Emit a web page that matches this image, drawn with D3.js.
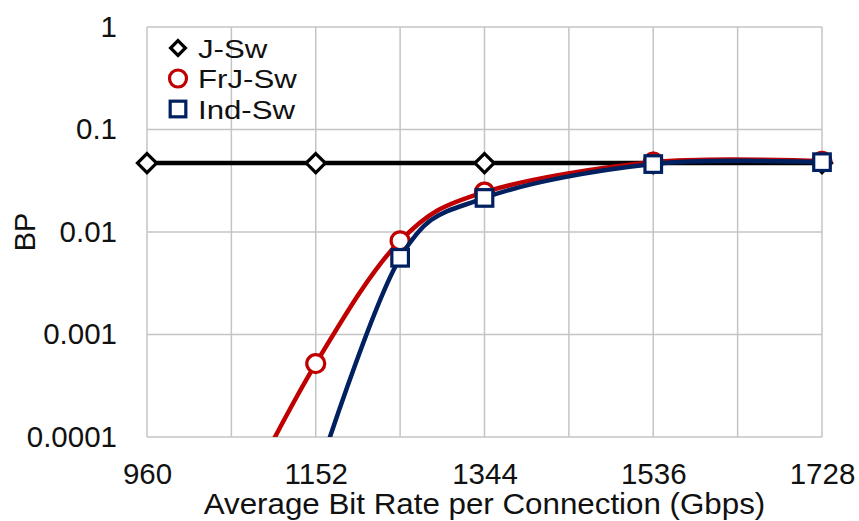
<!DOCTYPE html>
<html>
<head>
<meta charset="utf-8">
<script src="https://cdn.jsdelivr.net/npm/d3@7"></script>
<style>
  html, body { margin: 0; padding: 0; background: #fff; }
  svg { display: block; font-family: "Liberation Sans", Arial, sans-serif; }
</style>
</head>
<body>
<svg id="chart" width="859" height="521"></svg>
<script>
// Blocking probability vs. average bit rate per connection
const xTicks = [960, 1152, 1344, 1536, 1728];
const xGrid = [960, 1056, 1152, 1248, 1344, 1440, 1536, 1632, 1728];
const yTicks = [1, 0.1, 0.01, 0.001, 0.0001];
const yTickLabels = ["1", "0.1", "0.01", "0.001", "0.0001"];

const jswX = [960, 1152, 1344, 1536, 1728];
const jswY = [0.047, 0.047, 0.047, 0.047, 0.047];

const frjX = [1056, 1152, 1248, 1344, 1536, 1728];
const frjY = [0.000015, 0.00052, 0.0082, 0.0245, 0.048, 0.049];

const indX = [1152, 1248, 1344, 1536, 1728];
const indY = [0.000038, 0.0056, 0.0215, 0.046, 0.048];

const seriesNames = ["J-Sw", "FrJ-Sw", "Ind-Sw"];

const svg = d3.select("#chart");
const plotL = 147, plotR = 822, plotT = 27, plotB = 437;
const ink = "#111";

const x = d3.scaleLinear().domain([960, 1728]).range([plotL, plotR]);
const y = d3.scaleLog().domain([0.0001, 1]).range([plotB, plotT]);

// grid
const grid = svg.append("g").attr("stroke", "#c4c4c4").attr("stroke-width", 1.5);
grid.selectAll("line.v").data(xGrid).join("line")
  .attr("x1", d => x(d)).attr("x2", d => x(d))
  .attr("y1", plotT).attr("y2", plotB);
grid.selectAll("line.h").data(yTicks).join("line")
  .attr("x1", plotL).attr("x2", plotR)
  .attr("y1", d => y(d)).attr("y2", d => y(d));

// tick labels through d3 axes, without domain line or tick marks
const xAxis = svg.append("g").attr("transform", `translate(0,${plotB})`)
  .call(d3.axisBottom(x).tickValues(xTicks).tickSize(0).tickPadding(26).tickFormat(d3.format("d")));
xAxis.select(".domain").remove();
xAxis.selectAll("text").attr("font-size", 29.5).attr("fill", ink).attr("font-family", "Liberation Sans, Arial, sans-serif");

const yAxis = svg.append("g").attr("transform", `translate(${plotL},0)`)
  .call(d3.axisLeft(y).tickValues(yTicks).tickSize(0).tickPadding(30)
    .tickFormat((d, i) => yTickLabels[i]));
yAxis.select(".domain").remove();
yAxis.selectAll("text").attr("font-size", 29.5).attr("fill", ink).attr("font-family", "Liberation Sans, Arial, sans-serif");

svg.append("text")
  .attr("transform", `translate(${(plotL + plotR) / 2},514) scale(1.08,1)`)
  .attr("text-anchor", "middle").attr("font-size", 29).attr("fill", ink)
  .text("Average Bit Rate per Connection (Gbps)");

svg.append("text")
  .attr("transform", `translate(35,232) rotate(-90)`)
  .attr("text-anchor", "middle").attr("font-size", 29).attr("fill", ink)
  .text("BP");

// clip to plot area
svg.append("clipPath").attr("id", "plot")
  .append("rect").attr("x", plotL - 20).attr("y", plotT - 20)
  .attr("width", plotR - plotL + 40).attr("height", plotB - plotT + 20);

const plot = svg.append("g").attr("clip-path", "url(#plot)");
const line = d3.line().x(d => x(d[0])).y(d => y(d[1])).curve(d3.curveCardinal.tension(0));

const series = [
  { xs: jswX, ys: jswY, color: "#000000", shape: "diamond" },
  { xs: frjX, ys: frjY, color: "#c00000", shape: "circle" },
  { xs: indX, ys: indY, color: "#002060", shape: "square" }
];

function drawMarker(g, shape, cx, cy, color, size) {
  if (shape === "diamond") {
    const s = size * 0.53;
    g.append("path").attr("d", `M${cx},${cy - s}L${cx + s},${cy}L${cx},${cy + s}L${cx - s},${cy}Z`)
      .attr("fill", "#fff").attr("stroke", color).attr("stroke-width", 3.2);
  } else if (shape === "circle") {
    g.append("circle").attr("cx", cx).attr("cy", cy).attr("r", size * 0.5)
      .attr("fill", "#fff").attr("stroke", color).attr("stroke-width", 3.2);
  } else {
    const s = size * 0.46;
    g.append("rect").attr("x", cx - s).attr("y", cy - s).attr("width", 2 * s).attr("height", 2 * s)
      .attr("fill", "#fff").attr("stroke", color).attr("stroke-width", 3.2);
  }
}

series.forEach(s => {
  const pts = s.xs.map((v, i) => [v, s.ys[i]]);
  const g = plot.append("g");
  g.append("path").datum(pts).attr("d", line)
    .attr("fill", "none").attr("stroke", s.color).attr("stroke-width", 4.5);
  pts.filter(p => p[1] >= 0.0001).forEach(p => drawMarker(g, s.shape, x(p[0]), y(p[1]), s.color, 18));
});

// legend
const legend = svg.append("g");
seriesNames.forEach((name, i) => {
  const ly = 48 + i * 30.5;
  drawMarker(legend, series[i].shape, 178, ly, series[i].color, i === 0 ? 14 : 17);
  legend.append("text").attr("transform", `translate(198,${ly + 9.5}) scale(1.2,1)`)
    .attr("font-size", 26).attr("fill", ink).text(name);
});
</script>
</body>
</html>
